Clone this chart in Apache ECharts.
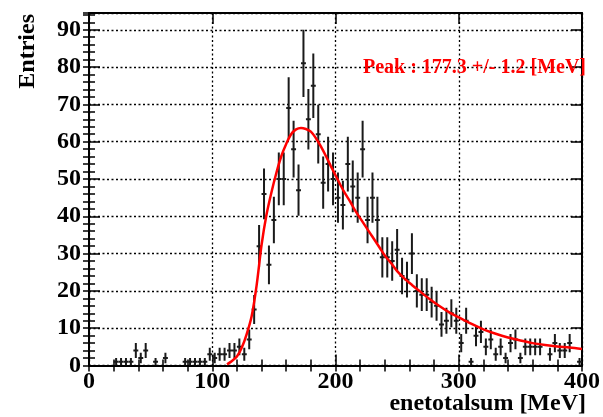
<!DOCTYPE html>
<html>
<head>
<meta charset="utf-8">
<script src="https://cdn.jsdelivr.net/npm/echarts@6/dist/echarts.min.js"></script>
<style>
  html, body { margin: 0; padding: 0; background: #fff; }
  #chart { width: 603px; height: 417px; }
</style>
</head>
<body>
<div id="chart"></div>
<script>
// Histogram of enetotalsum, 4 MeV bins (bin centres), empty bins omitted
const binCenters = [22, 26, 30, 34, 38, 42, 46, 54, 62, 78, 82, 86, 90, 94, 98, 102,
  106, 110, 114, 118, 122, 126, 130, 134, 138, 142, 146, 150, 154, 158, 162, 166,
  170, 174, 178, 182, 186, 190, 194, 198, 202, 206, 210, 214, 218, 222, 226, 230,
  234, 238, 242, 246, 250, 254, 258, 262, 266, 270, 274, 278, 282, 286, 290, 294,
  298, 302, 306, 310, 314, 318, 322, 326, 330, 334, 338, 342, 346, 350, 354, 358,
  362, 366, 374, 378, 382, 386, 390, 398];
const entries = [1, 1, 1, 1, 4, 2, 4, 1, 2, 1, 1, 1, 1, 1, 3, 2,
  3, 3, 4, 4, 5, 3, 7, 15, 32, 46, 27, 39, 50, 50, 69, 58,
  47, 81, 66, 75, 62, 49, 54, 50, 45, 43, 54, 48, 45, 58, 39, 45,
  39, 29, 29, 28, 31, 24, 23, 30, 20, 19, 19, 17, 16, 11, 12, 14,
  12, 6, 12, 1, 8, 9, 5, 7, 3, 5, 2, 6, 7, 2, 5, 5,
  5, 5, 3, 6, 4, 4, 6, 1];
const binWidth = 4;

// Fitted curve, sampled along x
const fitX = [112, 116, 120, 124, 128, 132, 136, 140, 144, 148, 152, 156, 160, 164, 168,
  172, 176, 180, 184, 188, 192, 196, 200, 204, 208, 212, 216, 220, 224, 228, 232, 236,
  240, 245, 250, 256, 262, 268, 276, 284, 292, 300, 310, 320, 330, 340, 350, 360, 370,
  380, 390, 400];
const fitY = [0.3, 1.2, 2.4, 4.8, 8.5, 13.3, 21.5, 32.3, 40.4, 46.4, 51.6, 56.1, 59.4, 62, 63.3,
  63.7, 63.4, 62.7, 61, 58.8, 56.3, 53.6, 51, 48.4, 46, 43.9, 41.5, 39.5, 37.5, 35.5, 33.5, 31.5,
  29.5, 27.5, 25.3, 23.3, 21.6, 20, 17.9, 16, 14.3, 12.9, 11.2, 9.7, 8.5, 7.5, 6.7, 6, 5.5,
  5.1, 4.8, 4.4];

const xTicks = [0, 100, 200, 300, 400];
const yTicks = [0, 10, 20, 30, 40, 50, 60, 70, 80, 90];
const peakText = 'Peak : 177.3 +/- 1.2 [MeV]';

const FONT = '"Liberation Serif", "DejaVu Serif", serif';
const X_MAX = 400, Y_MAX = 94.5;

function xAx(position, interval, opts) {
  return Object.assign({
    type: 'value', position, min: 0, max: X_MAX, interval,
    axisLine: { show: false },
    axisTick: { show: true, inside: true, length: 6, lineStyle: { color: '#000', width: 1.5 } },
    axisLabel: { show: false },
    splitLine: { show: false }
  }, opts);
}
function yAx(position, interval, opts) {
  return Object.assign({
    type: 'value', position, min: 0, max: Y_MAX, interval,
    axisLine: { show: false },
    axisTick: { show: true, inside: true, length: 6, lineStyle: { color: '#000', width: 1.5 } },
    axisLabel: { show: false },
    splitLine: { show: false }
  }, opts);
}
const frameLine = { show: true, onZero: false, lineStyle: { color: '#000', width: 2 } };
const gridDots = { show: true, lineStyle: { color: '#000', width: 1.3, type: [2, 2.5] } };

const chart = echarts.init(document.getElementById('chart'), null, { renderer: 'canvas' });
chart.setOption({
  animation: false,
  backgroundColor: '#fff',
  grid: { left: 89, right: 17, top: 13, bottom: 51.5 },
  xAxis: [
    xAx('bottom', 100, {
      axisLine: frameLine,
      axisTick: { show: true, inside: true, length: 11, lineStyle: { color: '#000', width: 1.5 } },
      axisLabel: {
        show: true, margin: 4, color: '#000', fontFamily: FONT, fontWeight: 'bold', fontSize: 24,
        formatter: v => (xTicks.indexOf(v) >= 0 ? String(v) : '')
      },
      splitLine: gridDots
    }),
    xAx('bottom', 20),
    xAx('top', 100, {
      axisLine: frameLine,
      axisTick: { show: true, inside: true, length: 11, lineStyle: { color: '#000', width: 1.5 } }
    }),
    xAx('top', 20)
  ],
  yAxis: [
    yAx('left', 10, {
      axisLine: frameLine,
      axisTick: { show: true, inside: true, length: 11, lineStyle: { color: '#000', width: 1.5 } },
      axisLabel: {
        show: true, margin: 8, color: '#000', fontFamily: FONT, fontWeight: 'bold', fontSize: 24,
        formatter: v => (yTicks.indexOf(v) >= 0 ? String(v) : '')
      },
      splitLine: gridDots
    }),
    yAx('left', 2),
    yAx('right', 10, {
      axisLine: frameLine,
      axisTick: { show: true, inside: true, length: 11, lineStyle: { color: '#000', width: 1.5 } }
    }),
    yAx('right', 2)
  ],
  graphic: [
    {
      type: 'text', left: null, x: 586, y: 404,
      style: { text: 'enetotalsum [MeV]', fill: '#000', font: 'bold 24px ' + FONT, align: 'right', verticalAlign: 'middle' }
    },
    {
      type: 'text', x: 28, y: 14, rotation: Math.PI / 2,
      style: { text: 'Entries', fill: '#000', font: 'bold 24px ' + FONT, align: 'right', verticalAlign: 'middle' }
    },
    {
      type: 'text', x: 586, y: 68, z: 10,
      style: { text: peakText, fill: '#ff0000', font: 'bold 20px ' + FONT, align: 'right', verticalAlign: 'middle' }
    }
  ],
  series: [
    {
      type: 'custom',
      xAxisIndex: 0, yAxisIndex: 0,
      clip: true,
      data: binCenters.map((x, i) => [x, entries[i]]),
      renderItem: function (params, api) {
        const x = api.value(0), y = api.value(1), err = Math.sqrt(y);
        const c = api.coord([x, y]);
        const lo = api.coord([x, Math.max(0, y - err)]);
        const hi = api.coord([x, y + err]);
        const l = api.coord([x - binWidth / 2, y]);
        const r = api.coord([x + binWidth / 2, y]);
        const st = { stroke: '#1a1a1a', lineWidth: 2 };
        return {
          type: 'group',
          children: [
            { type: 'line', shape: { x1: c[0], y1: lo[1], x2: c[0], y2: hi[1] }, style: st },
            { type: 'line', shape: { x1: l[0], y1: c[1], x2: r[0], y2: c[1] }, style: st }
          ]
        };
      }
    },
    {
      type: 'line',
      xAxisIndex: 0, yAxisIndex: 0,
      data: fitX.map((x, i) => [x, fitY[i]]),
      smooth: 0.3,
      showSymbol: false,
      clip: true,
      lineStyle: { color: '#ff0000', width: 2.5 },
      z: 5
    }
  ]
});
</script>
</body>
</html>
